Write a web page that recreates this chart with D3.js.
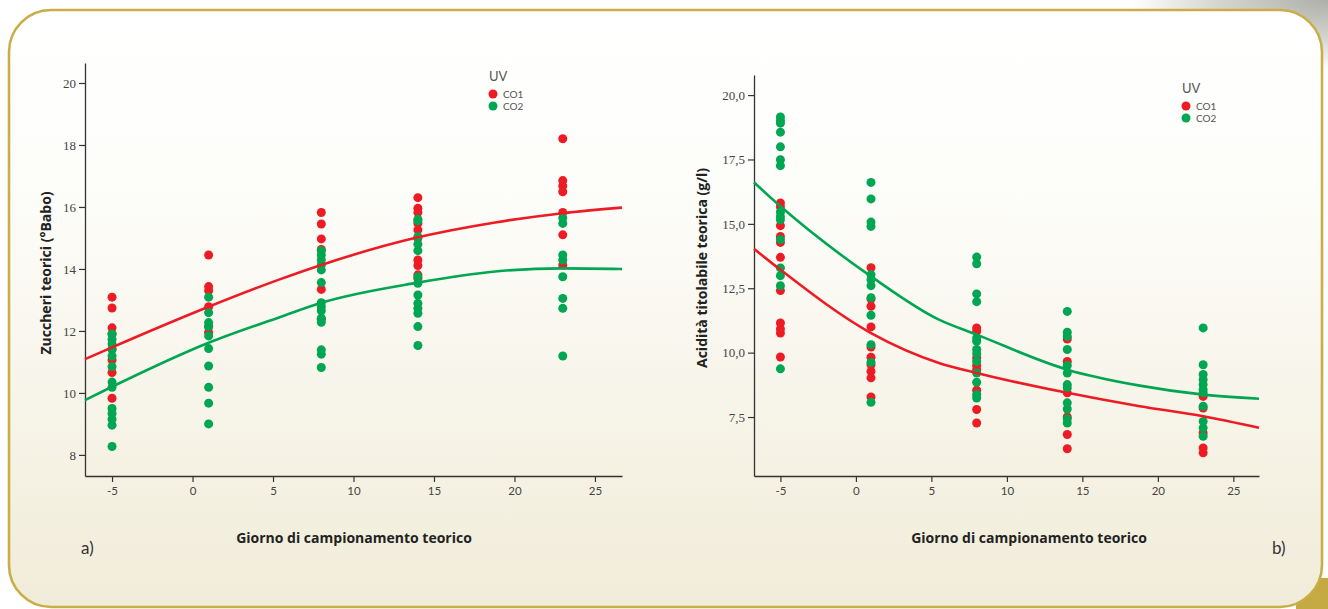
<!DOCTYPE html>
<html><head><meta charset="utf-8">
<script src="https://cdn.jsdelivr.net/npm/d3@7"></script>
<style>body{margin:0;background:#fff;}svg{display:block;}</style>
</head><body>
<svg id="c" width="1328" height="609"></svg>
<script>
// ---- data ----
const days = [-5, 1, 8, 14, 23];
const xTicks = [-5, 0, 5, 10, 15, 20, 25];
const sugarTicks = [8, 10, 12, 14, 16, 18, 20];
const acidTicks = [7.5, 10, 12.5, 15, 17.5, 20];
const seriesNames = ["CO1", "CO2"];

const sugarCO1 = [
  [13.09, 12.74, 12.10, 11.90, 11.41, 11.06, 10.66, 9.83],
  [14.45, 13.43, 13.30, 12.78, 12.14, 11.95],
  [15.82, 15.45, 14.97, 14.63, 13.34, 12.38],
  [16.30, 15.96, 15.82, 15.47, 15.26, 14.99, 14.29, 14.11, 13.81, 13.70],
  [18.20, 16.85, 16.68, 16.49, 15.82, 15.10, 14.13]
];
const sugarCO2 = [
  [11.90, 11.73, 11.58, 11.40, 11.19, 10.85, 10.35, 10.18, 9.50, 9.34, 9.15, 8.96, 8.27],
  [13.09, 12.59, 12.27, 12.14, 11.84, 11.43, 10.87, 10.18, 9.67, 9.00],
  [14.59, 14.45, 14.29, 14.13, 13.97, 13.56, 12.91, 12.78, 12.65, 12.41, 12.28, 11.39, 11.25, 10.82],
  [15.60, 15.55, 15.04, 14.80, 14.59, 13.75, 13.54, 13.16, 12.89, 12.73, 12.57, 12.14, 11.53],
  [15.65, 15.47, 14.45, 14.29, 13.75, 13.05, 12.73, 11.19]
];
const acidCO1 = [
  [15.81, 15.66, 14.93, 14.51, 14.28, 13.70, 12.41, 11.15, 10.92, 10.76, 9.83],
  [13.30, 12.08, 11.80, 11.00, 10.22, 9.82, 9.53, 9.27, 9.02, 8.28],
  [10.96, 10.83, 9.79, 9.50, 9.34, 8.54, 7.79, 7.27],
  [10.53, 9.66, 8.44, 7.50, 6.82, 6.27],
  [8.30, 7.85, 6.88, 6.30, 6.11]
];
const acidCO2 = [
  [19.15, 19.02, 18.91, 18.56, 17.99, 17.49, 17.26, 15.46, 15.29, 15.16, 14.39, 13.29, 12.99, 12.60, 9.37],
  [16.61, 15.97, 15.07, 14.90, 13.03, 12.83, 12.60, 12.13, 11.45, 10.31, 9.62, 8.07],
  [13.71, 13.45, 12.28, 11.98, 10.57, 10.44, 10.12, 9.96, 9.66, 9.21, 8.85, 8.37, 8.24],
  [11.60, 10.79, 10.63, 10.12, 9.50, 9.21, 8.76, 8.63, 8.05, 7.81, 7.43, 7.27],
  [10.96, 9.53, 9.15, 8.95, 8.76, 8.56, 8.44, 7.92, 7.33, 7.08, 6.75]
];
// fitted curves
const fitDaysA = [-6.68, -5, 1, 5.5, 8, 14, 18.8, 23, 26.68];
const sugarFitCO1 = [11.09, 11.47, 12.78, 13.68, 14.13, 15.02, 15.50, 15.80, 15.98];
const sugarFitCO2 = [9.77, 10.20, 11.62, 12.46, 12.91, 13.56, 13.92, 14.02, 14.00];
const fitDaysB = [-6.75, -5, 1, 5.5, 8, 14, 18.8, 23, 26.7];
const acidFitCO1 = [14.03, 13.22, 10.76, 9.60, 9.21, 8.44, 7.92, 7.53, 7.08];
const acidFitCO2 = [16.61, 15.68, 12.96, 11.28, 10.70, 9.34, 8.72, 8.37, 8.21];

const colors = {CO1: "#ed1c24", CO2: "#00a651"};

const svg = d3.select("#c");
const defs = svg.append("defs");
const bg = defs.append("linearGradient").attr("id","bg").attr("x1",0).attr("y1",0).attr("x2",0).attr("y2",1);
bg.append("stop").attr("offset","0").attr("stop-color","#ffffff");
bg.append("stop").attr("offset","0.3").attr("stop-color","#fdfdfa");
bg.append("stop").attr("offset","1").attr("stop-color","#f1ecd9");
const photo = defs.append("radialGradient").attr("id","photo").attr("cx","1").attr("cy","0").attr("r","1");
photo.append("stop").attr("offset","0").attr("stop-color","#aeb0a8");
photo.append("stop").attr("offset","0.55").attr("stop-color","#d4d5cf");
photo.append("stop").attr("offset","1").attr("stop-color","#ffffff");

// outside decoration
svg.append("rect").attr("x",1130).attr("y",0).attr("width",198).attr("height",70).attr("fill","url(#photo)");
svg.append("rect").attr("x",1296).attr("y",578).attr("width",32).attr("height",31).attr("fill","#c5a942");
// frame
svg.append("rect").attr("x",9).attr("y",10).attr("width",1313).attr("height",597)
  .attr("rx",42).attr("ry",42).attr("fill","url(#bg)").attr("stroke","#c9ae48").attr("stroke-width",2.6);

const fmtInt = d => String(d);

function panel(opt){
  const g = svg.append("g");
  const x = d3.scaleLinear().domain(opt.xDomain).range(opt.xRange);
  const y = d3.scaleLinear().domain(opt.yDomain).range(opt.yRange);
  // axes
  const xa = g.append("g").attr("transform",`translate(0,${opt.yRange[0]})`)
    .call(d3.axisBottom(x).tickValues(xTicks).tickFormat(fmtInt).tickSize(6).tickSizeOuter(0).tickPadding(5));
  xa.select(".domain").attr("stroke","#333").attr("stroke-width",1.3);
  xa.selectAll(".tick line").attr("stroke","#333").attr("stroke-width",1.2);
  xa.selectAll(".tick text").attr("font-family","Lato, 'Open Sans', sans-serif").attr("font-size",11.5).attr("fill","#444");
  const ya = g.append("g").attr("transform",`translate(${opt.xRange[0]},0)`)
    .call(d3.axisLeft(y).tickValues(opt.yTicks).tickFormat(opt.yFmt).tickSize(6).tickSizeOuter(0).tickPadding(3));
  ya.select(".domain").attr("stroke","#333").attr("stroke-width",1.3);
  ya.selectAll(".tick line").attr("stroke","#333").attr("stroke-width",1.2);
  ya.selectAll(".tick text").attr("font-family","'Liberation Serif', serif").attr("font-size",13).attr("fill","#444");
  // points
  opt.series.forEach((s) => {
    const pts = [];
    s.values.forEach((arr, i) => arr.forEach(v => pts.push([days[i], v])));
    g.append("g").selectAll("circle").data(pts).join("circle")
      .attr("cx", d => x(d[0])).attr("cy", d => y(d[1])).attr("r", 4.5)
      .attr("fill", colors[s.name]);
  });
  // fit lines
  const line = d3.line().x(d => x(d[0])).y(d => y(d[1])).curve(d3.curveMonotoneX);
  opt.fits.forEach(f => {
    g.append("path").datum(opt.fitX.map((d,i) => [d, f.values[i]]))
      .attr("d", line).attr("fill","none").attr("stroke", colors[f.name]).attr("stroke-width",2.6);
  });
  // axis titles
  g.append("text").attr("x", opt.xLabelPos[0]).attr("y", opt.xLabelPos[1]).attr("text-anchor","middle")
    .attr("font-family","'Open Sans', sans-serif").attr("font-weight","bold").attr("font-size",14).attr("fill","#222")
    .text("Giorno di campionamento teorico");
  g.append("text").attr("transform",`translate(${opt.yLabelPos[0]},${opt.yLabelPos[1]}) rotate(-90)`).attr("text-anchor","middle")
    .attr("font-family","'Open Sans', sans-serif").attr("font-weight","bold").attr("font-size",14).attr("fill","#222")
    .text(opt.yLabel);
  // legend
  const lg = g.append("g").attr("transform",`translate(${opt.legend[0]},${opt.legend[1]})`);
  lg.append("text").attr("x",-2).attr("y",0).attr("font-family","Lato, sans-serif").attr("font-size",13).attr("fill","#555").text("UV");
  seriesNames.forEach((n,i) => {
    lg.append("circle").attr("cx",2).attr("cy",13+i*12).attr("r",4.5).attr("fill",colors[n]);
    lg.append("text").attr("x",12).attr("y",17+i*12).attr("font-family","Lato, sans-serif").attr("font-size",10).attr("fill","#555").text(n);
  });
  g.append("text").attr("x",opt.tag[0]).attr("y",opt.tag[1]).attr("font-family","Lato, sans-serif").attr("font-size",17).attr("fill","#333").text(opt.tagText);
}

panel({
  xDomain:[-6.68, 26.68], xRange:[85, 622],
  yDomain:[7.32, 20.645], yRange:[476, 63],
  yTicks: sugarTicks, yFmt: fmtInt,
  series:[{name:"CO1", values:sugarCO1},{name:"CO2", values:sugarCO2}],
  fitX: fitDaysA,
  fits:[{name:"CO1", values:sugarFitCO1},{name:"CO2", values:sugarFitCO2}],
  xLabelPos:[354, 543], yLabelPos:[51, 273],
  yLabel:"Zuccheri teorici (°Babo)",
  legend:[491, 81], tag:[81, 554], tagText:"a)"
});
panel({
  xDomain:[-6.75, 26.7], xRange:[754, 1259],
  yDomain:[5.21, 20.78], yRange:[476, 75],
  yTicks: acidTicks, yFmt: d => d3.format(".1f")(d).replace(".", ","),
  series:[{name:"CO1", values:acidCO1},{name:"CO2", values:acidCO2}],
  fitX: fitDaysB,
  fits:[{name:"CO1", values:acidFitCO1},{name:"CO2", values:acidFitCO2}],
  xLabelPos:[1029, 543], yLabelPos:[707, 268],
  yLabel:"Acidità titolabile teorica (g/l)",
  legend:[1184, 93], tag:[1272, 554], tagText:"b)"
});
</script>
</body></html>
